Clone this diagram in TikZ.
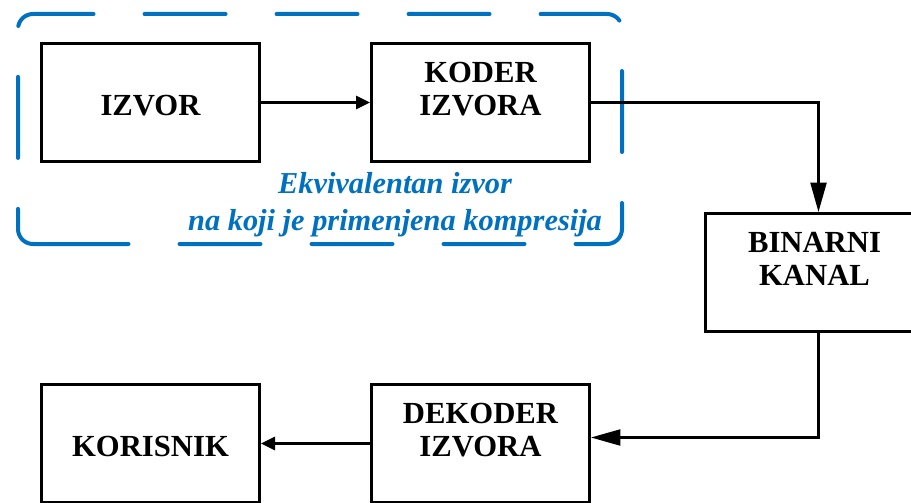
\documentclass[tikz,border=0pt]{standalone}
\usepackage{fontspec}
\setmainfont{Liberation Serif}
\usetikzlibrary{arrows.meta,positioning}
\definecolor{plava}{RGB}{0,112,192}

\begin{document}
\begin{tikzpicture}[
    x=0.75pt, y=-0.75pt,
    every node/.style={font=\fontsize{23}{24.75}\selectfont\bfseries},
    blok/.style={rectangle, draw, line width=2.25pt, align=center, minimum width=163.5pt, minimum height=88.5pt, inner sep=0pt, text height=18.8pt, text depth=0pt},
    strelica/.style={-{Triangle[length=10.5pt, width=10pt]}, line width=1.6pt},
    dugastrelica/.style={-{Triangle[length=22pt, width=12pt]}, line width=1.6pt},
    okvir/.style={draw=plava, line width=3pt, line cap=round, rounded corners=11.25pt, dash pattern=on 60.75pt off 38.25pt},
    opis/.style={text=plava, align=center, font=\fontsize{22.8}{27.75}\selectfont\bfseries\itshape}
]
\useasboundingbox (0,0) rectangle (911,503);

\node[blok] (izvor) at (150.5,102.5) {IZVOR};
\node[blok, right=81.75pt of izvor] (koder) {KODER\\IZVORA};
\node[blok, below right=36.75pt and 84.75pt of koder] (kanal) {BINARNI\\KANAL};
\node[blok, below left=37.5pt and 84.75pt of kanal] (dekoder) {DEKODER\\IZVORA};
\node[blok, left=81.75pt of dekoder] (korisnik) {KORISNIK};

\draw[okvir] (85.4,244) -| (18,14) -| (622,244) -- cycle;
\node[opis, anchor=base] (opis) at (395,230) {Ekvivalentan izvor\\na koji je primenjena kompresija};

\draw[strelica] (izvor) -- (koder);
\draw[dugastrelica] (koder) -| ([xshift=3pt]kanal.north);
\draw[dugastrelica] ([xshift=3pt]kanal.south) |- ([yshift=4.5pt]dekoder.east);
\draw[strelica] (dekoder) -- (korisnik);

\end{tikzpicture}
\end{document}
